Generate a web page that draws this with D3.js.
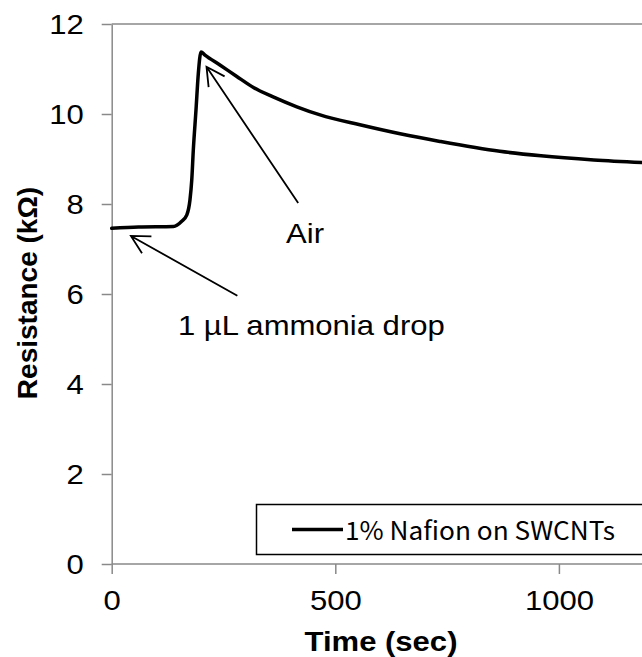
<!DOCTYPE html>
<html lang="en">
<head>
    <meta charset="UTF-8">
    <title>Resistance vs time</title>
    <script src="https://d3js.org/d3.v7.min.js"></script>
</head>
<body>
<style>
    body {
        margin: 0;
        background: #fff;
    }
    svg text {
        font-family: "Liberation Sans", Arial, sans-serif;
        fill: #000;
    }
</style>
<script>
    // readings: time (sec) and resistance (kOhm)
    var times = [0, 60, 138, 156, 168, 175, 179, 182.5, 188.5, 193.7, 199.7, 208.6, 242, 279, 317, 361, 414, 466, 555, 645, 734, 868, 960, 1078, 1190];
    var resistances = [7.46, 7.49, 7.50, 7.61, 7.76, 8.09, 8.53, 9.2, 10.09, 10.9, 11.38, 11.31, 11.09, 10.84, 10.59, 10.38, 10.16, 9.98, 9.76, 9.56, 9.39, 9.17, 9.07, 8.98, 8.92];
    var seriesName = "1% Nafion on SWCNTs";

    var xTicks = [0, 500, 1000];
    var yTicks = [0, 2, 4, 6, 8, 10, 12];

    // arrow notes: text spot, arrow tail and tip in data units
    var noteLabels = ["Air", "1 \u00b5L ammonia drop"];
    var noteText = [[390, 7.14], [148, 5.09]];
    var noteTail = [[417, 8.02], [281, 5.96]];
    var noteTip = [[212, 11.05], [43, 7.29]];

    var W = 642, H = 657;
    var SX = 1.15; // text in the picture is a bit wide

    var x = d3.scaleLinear().domain([0, 1200]).range([111.7, 111.7 + 1200 * 0.4472]);
    var y = d3.scaleLinear().domain([0, 12]).range([564, 24]);

    var svg = d3.select("body").append("svg")
        .attr("width", W)
        .attr("height", H);

    var axisColor = "#898989";

    // top border of plot area
    svg.append("line")
        .attr("x1", x(0)).attr("x2", W)
        .attr("y1", y(12)).attr("y2", y(12))
        .attr("stroke", axisColor)
        .attr("stroke-width", 1.5);

    // y axis
    var gy = svg.append("g")
        .attr("transform", "translate(" + x(0) + ",0)")
        .call(d3.axisLeft(y).tickValues(yTicks).tickFormat(d3.format("d"))
            .tickSize(10).tickSizeOuter(0).tickPadding(18));
    gy.select(".domain").attr("stroke", axisColor).attr("stroke-width", 1.5);
    gy.selectAll(".tick line").attr("stroke", axisColor).attr("stroke-width", 1.5);
    gy.selectAll(".tick text")
        .style("font-size", "27px")
        .style("font-family", "'Liberation Sans', Arial, sans-serif")
        .attr("x", -28 / SX)
        .attr("dy", "0.35em")
        .attr("transform", "scale(" + SX + ",1)");

    // x axis
    var gx = svg.append("g")
        .attr("transform", "translate(0," + y(0) + ")")
        .call(d3.axisBottom(x).tickValues(xTicks).tickFormat(d3.format("d"))
            .tickSize(10).tickSizeOuter(0).tickPadding(17));
    gx.select(".domain").attr("stroke", axisColor).attr("stroke-width", 1.5)
        .attr("d", "M" + x(0) + ",0H" + W);
    gx.selectAll(".tick line").attr("stroke", axisColor).attr("stroke-width", 1.5);
    gx.selectAll(".tick text")
        .style("font-size", "27px")
        .style("font-family", "'Liberation Sans', Arial, sans-serif")
        .attr("transform", "scale(" + SX + ",1)");

    // axis titles
    svg.append("text")
        .attr("transform", "translate(381,650.5) scale(" + SX + ",1)")
        .attr("text-anchor", "middle")
        .style("font-size", "27px")
        .style("font-weight", "bold")
        .text("Time (sec)");

    svg.append("text")
        .attr("transform", "translate(37,293) rotate(-90)")
        .attr("text-anchor", "middle")
        .style("font-size", "28px")
        .style("font-weight", "bold")
        .text("Resistance (k\u03a9)");

    // legend
    var legend = svg.append("g");
    legend.append("rect")
        .attr("x", 256.5).attr("y", 504.5)
        .attr("width", 420).attr("height", 50)
        .attr("fill", "#fff")
        .attr("stroke", "#000")
        .attr("stroke-width", 1.5);
    legend.append("line")
        .attr("x1", 292).attr("x2", 343)
        .attr("y1", 529.5).attr("y2", 529.5)
        .attr("stroke", "#000")
        .attr("stroke-width", 3.5);
    legend.append("text")
        .attr("x", 345).attr("y", 539.5)
        .attr("textLength", 270)
        .attr("lengthAdjust", "spacingAndGlyphs")
        .style("font-family", "'Noto Sans CJK KR', 'Noto Sans', sans-serif")
        .style("font-size", "25px")
        .text(seriesName);

    // data line
    var data = times.map(function (t, i) { return {t: t, r: resistances[i]}; });
    var line = d3.line()
        .x(function (d) { return x(d.t); })
        .y(function (d) { return y(d.r); })
        .curve(d3.curveMonotoneX);

    svg.append("path")
        .datum(data)
        .attr("fill", "none")
        .attr("stroke", "#000")
        .attr("stroke-width", 3.5)
        .attr("stroke-linejoin", "round")
        .attr("stroke-linecap", "round")
        .attr("d", line);

    // annotations with open arrowheads
    var headLen = 20.5, headAng = 28 * Math.PI / 180;
    for (var i = 0; i < noteLabels.length; i++) {
        var tx = x(noteTail[i][0]), ty = y(noteTail[i][1]);
        var px = x(noteTip[i][0]), py = y(noteTip[i][1]);
        var a = Math.atan2(ty - py, tx - px);
        var h1 = [px + headLen * Math.cos(a + headAng), py + headLen * Math.sin(a + headAng)];
        var h2 = [px + headLen * Math.cos(a - headAng), py + headLen * Math.sin(a - headAng)];
        svg.append("path")
            .attr("d", "M" + tx + "," + ty + "L" + px + "," + py +
                "M" + h1[0] + "," + h1[1] + "L" + px + "," + py + "L" + h2[0] + "," + h2[1])
            .attr("fill", "none")
            .attr("stroke", "#000")
            .attr("stroke-width", 1.8);

        svg.append("text")
            .attr("transform", "translate(" + x(noteText[i][0]) + "," + y(noteText[i][1]) + ") scale(" + SX + ",1)")
            .style("font-size", "27px")
            .text(noteLabels[i]);
    }
</script>
</body>
</html>
